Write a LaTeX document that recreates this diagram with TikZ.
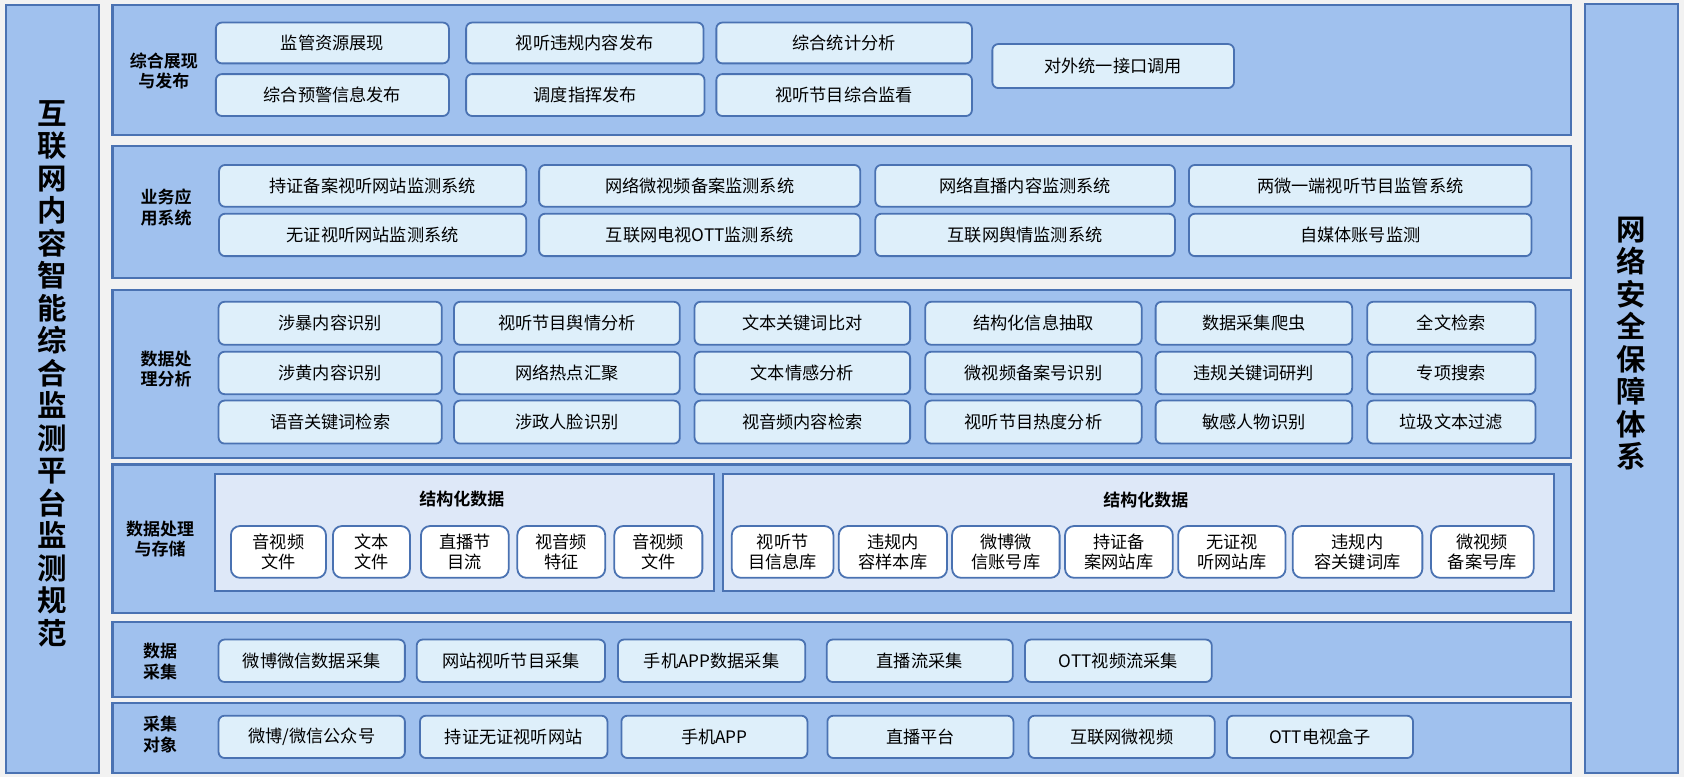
\documentclass[tikz,border=0pt]{standalone}
\usepackage{fontspec}
\setmainfont{Noto Sans CJK SC}[BoldFont={Noto Sans CJK SC Bold}]
\definecolor{bg}{HTML}{F2F2F2}
\definecolor{pfill}{HTML}{A0C1EE}
\definecolor{pline}{HTML}{4A72B2}
\definecolor{bfill}{HTML}{DEEFFA}
\definecolor{cfill}{HTML}{DEE8F8}
\tikzset{
  panel/.style={draw=pline, fill=pfill, line width=2.2pt, inner sep=0pt},
  bx/.style={draw=pline, fill=bfill, line width=1.8pt, rounded corners=6pt, inner sep=0pt,
    font=\fontsize{17.2}{19.5}\selectfont, align=center},
  wbx/.style={bx, fill=white, rounded corners=9pt},
  cont/.style={draw=pline, fill=cfill, line width=2pt, inner sep=0pt, rounded corners=0pt},
  lbl/.style={font=\bfseries\fontsize{17}{20.5}\selectfont, align=center},
  ttl/.style={font=\bfseries\fontsize{17}{20}\selectfont},
  vt/.style={font=\bfseries\fontsize{29.5}{32.5}\selectfont, align=center},
}
\newcommand\Bx[7][bx]{\node[#1,minimum width={(#4-#2)*1.074pt},minimum height={(#5-#3)*1.074pt}] (#6) at ({(#2+#4)/2},{(#3+#5)/2}) {#7};}
\begin{document}
\begin{tikzpicture}[x=1.074pt,y=-1.074pt]
\useasboundingbox (0,0) rectangle (1568,723.5);
\fill[bg] (0,0) rectangle (1568,723.5);
% side columns
\Bx[panel]{5.3}{4.7}{92}{720}{left}{}
\Bx[panel]{1476}{4}{1562.5}{720}{right}{}
\node[vt] (lefttxt) at (48.5,348) {互\\联\\网\\内\\容\\智\\能\\综\\合\\监\\测\\平\\台\\监\\测\\规\\范};
\node[vt] (righttxt) at (1519,320) {网\\络\\安\\全\\保\\障\\体\\系};
% panels
\Bx[panel]{104.7}{4.7}{1462.4}{126}{p1}{}
\Bx[panel]{104.7}{136}{1462.4}{259}{p2}{}
\Bx[panel]{104.7}{270}{1462.4}{426.5}{p3}{}
\Bx[panel]{104.7}{432.5}{1462.4}{570.5}{p4}{}
\Bx[panel]{104.7}{579}{1462.4}{648.7}{p5}{}
\Bx[panel]{104.7}{654.6}{1462.4}{720}{p6}{}
% labels
\node[lbl] (l1) at (152.5,66) {综合展现\\与发布};
\node[lbl] (l2) at (154.6,193) {业务应\\用系统};
\node[lbl] (l3) at (154.6,343.6) {数据处\\理分析};
\node[lbl] (l4) at (149,502) {数据处理\\与存储};
\node[lbl] (l5) at (149,616) {数据\\采集};
\node[lbl] (l6) at (149,684) {采集\\对象};
% panel 1
\Bx{201}{21}{418}{59}{a1}{监管资源展现}
\Bx{434}{21}{655}{59}{a2}{视听违规内容发布}
\Bx{667}{21}{905}{59}{a3}{综合统计分析}
\Bx{201}{69}{418}{108}{a4}{综合预警信息发布}
\Bx{434}{69}{656}{108}{a5}{调度指挥发布}
\Bx{667}{69}{905}{108}{a6}{视听节目综合监看}
\Bx{924}{41}{1149}{82}{a7}{对外统一接口调用}
% panel 2
\Bx{204}{153.6}{490}{192.5}{b1}{持证备案视听网站监测系统}
\Bx{502}{153.6}{801}{192.5}{b2}{网络微视频备案监测系统}
\Bx{815}{153.6}{1094}{192.5}{b3}{网络直播内容监测系统}
\Bx{1107}{153.6}{1426}{192.5}{b4}{两微一端视听节目监管系统}
\Bx{204}{199}{490}{238.5}{b5}{无证视听网站监测系统}
\Bx{502}{199}{801}{238.5}{b6}{互联网电视OTT监测系统}
\Bx{815}{199}{1094}{238.5}{b7}{互联网舆情监测系统}
\Bx{1107}{199}{1426}{238.5}{b8}{自媒体账号监测}
% panel 3
\Bx{203.5}{281}{411.4}{321}{c1}{涉暴内容识别}
\Bx{422.8}{281}{633}{321}{c2}{视听节目舆情分析}
\Bx{646.7}{281}{847.4}{321}{c3}{文本关键词比对}
\Bx{861.5}{281}{1063}{321}{c4}{结构化信息抽取}
\Bx{1076}{281}{1259}{321}{c5}{数据采集爬虫}
\Bx{1273}{281}{1429.7}{321}{c6}{全文检索}
\Bx{203.5}{327.5}{411.4}{367}{c7}{涉黄内容识别}
\Bx{422.8}{327.5}{633}{367}{c8}{网络热点汇聚}
\Bx{646.7}{327.5}{847.4}{367}{c9}{文本情感分析}
\Bx{861.5}{327.5}{1063}{367}{c10}{微视频备案号识别}
\Bx{1076}{327.5}{1259}{367}{c11}{违规关键词研判}
\Bx{1273}{327.5}{1429.7}{367}{c12}{专项搜索}
\Bx{203.5}{373}{411.4}{413}{c13}{语音关键词检索}
\Bx{422.8}{373}{633}{413}{c14}{涉政人脸识别}
\Bx{646.7}{373}{847.4}{413}{c15}{视音频内容检索}
\Bx{861.5}{373}{1063}{413}{c16}{视听节目热度分析}
\Bx{1076}{373}{1259}{413}{c17}{敏感人物识别}
\Bx{1273}{373}{1429.7}{413}{c18}{垃圾文本过滤}
% panel 4
\Bx[cont]{200}{441}{665}{550}{k1}{}
\Bx[cont]{673}{441}{1447}{550}{k2}{}
\node[ttl] (t1) at (430,464.5) {结构化数据};
\node[ttl] (t2) at (1067,466) {结构化数据};
\Bx[wbx]{215}{489.8}{303.5}{538}{d1}{音视频\\文件}
\Bx[wbx]{310}{489.8}{381.7}{538}{d2}{文本\\文件}
\Bx[wbx]{392}{489.8}{473.7}{538}{d3}{直播节\\目流}
\Bx[wbx]{481.7}{489.8}{563.5}{538}{d4}{视音频\\特征}
\Bx[wbx]{572}{489.8}{654}{538}{d5}{音视频\\文件}
\Bx[wbx]{681.4}{489.8}{776}{538}{e1}{视听节\\目信息库}
\Bx[wbx]{781}{489.8}{881.8}{538}{e2}{违规内\\容样本库}
\Bx[wbx]{886.5}{489.8}{986.6}{538}{e3}{微博微\\信账号库}
\Bx[wbx]{991.7}{489.8}{1092}{538}{e4}{持证备\\案网站库}
\Bx[wbx]{1097}{489.8}{1197}{538}{e5}{无证视\\听网站库}
\Bx[wbx]{1203.7}{489.8}{1324.4}{538}{e6}{违规内\\容关键词库}
\Bx[wbx]{1332.5}{489.8}{1428}{538}{e7}{微视频\\备案号库}
% panel 5
\Bx{203.5}{595.5}{377}{635}{f1}{微博微信数据采集}
\Bx{388}{595.5}{563.4}{635}{f2}{网站视听节目采集}
\Bx{575.4}{595.5}{749.8}{635}{f3}{手机APP数据采集}
\Bx{769.8}{595.5}{943}{635}{f4}{直播流采集}
\Bx{954.4}{595.5}{1128.3}{635}{f5}{OTT视频流采集}
% panel 6
\Bx{203.5}{666.4}{377}{705.8}{g1}{微博/微信公众号}
\Bx{391}{666.4}{565.6}{705.8}{g2}{持证无证视听网站}
\Bx{578.6}{666.4}{751.8}{705.8}{g3}{手机APP}
\Bx{770.4}{666.4}{943.6}{705.8}{g4}{直播平台}
\Bx{957.7}{666.4}{1131}{705.8}{g5}{互联网微视频}
\Bx{1142.5}{666.4}{1315.7}{705.8}{g6}{OTT电视盒子}
\end{tikzpicture}
\end{document}
